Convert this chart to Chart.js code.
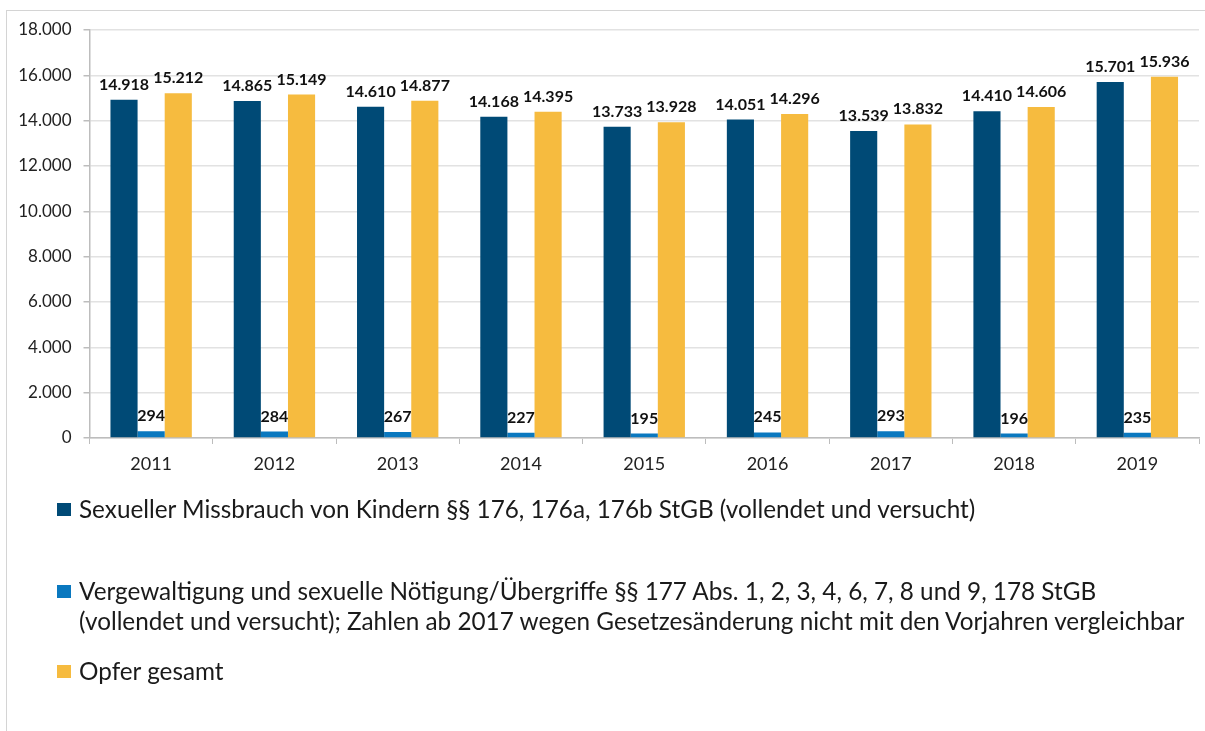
<!DOCTYPE html>
<html>
<head>
<meta charset="utf-8">
<script src="https://cdn.jsdelivr.net/npm/chart.js@4/dist/chart.umd.min.js"></script>
<style>
  html, body { margin: 0; padding: 0; background: #fff; }
  #wrap { position: relative; width: 1205px; height: 731px; overflow: hidden; }
  #frame { position: absolute; left: 6px; top: 10px; width: 1300px; height: 800px;
           border-left: 1px solid #d4d4d4; border-top: 1px solid #d4d4d4; }
  canvas { position: absolute; left: 0; top: 0; }
  .lg { position: absolute; left: 57px; font-family: Lato, "Open Sans", sans-serif;
        font-size: 24.3px; color: #1a1a1a; line-height: 29.5px; white-space: nowrap; }
  .lg .sw { position: absolute; left: 0; width: 14px; height: 13px; }
  .lg .tx { position: absolute; left: 22px; top: 0; }
</style>
</head>
<body>
<div id="wrap">
  <div id="frame"></div>
  <canvas id="c" width="1205" height="731"></canvas>
  <div id="legend"></div>
</div>
<script>
const categories = ["2011","2012","2013","2014","2015","2016","2017","2018","2019"];
const missbrauchKinder = [14918, 14865, 14610, 14168, 13733, 14051, 13539, 14410, 15701];
const vergewaltigung   = [294, 284, 267, 227, 195, 245, 293, 196, 235];
const opferGesamt      = [15212, 15149, 14877, 14395, 13928, 14296, 13832, 14606, 15936];
const seriesLabels = [
  ["Sexueller Missbrauch von Kindern §§ 176, 176a, 176b StGB (vollendet und versucht)"],
  ["Vergewaltigung und sexuelle Nötigung/Übergriffe §§ 177 Abs. 1, 2, 3, 4, 6, 7, 8 und 9, 178 StGB",
   "(vollendet und versucht); Zahlen ab 2017 wegen Gesetzesänderung nicht mit den Vorjahren vergleichbar"],
  ["Opfer gesamt"]
];
const seriesColors = ["#004a76", "#0a78bf", "#f6bb3f"];
const yTicksMax = 18000;
const yTickStep = 2000;

function fmt(v) {
  return String(v).replace(/\B(?=(\d{3})+(?!\d))/g, ".");
}

const labelPlugin = {
  id: "barLabels",
  afterDatasetsDraw(chart) {
    const ctx = chart.ctx;
    ctx.save();
    ctx.font = "bold 16px Lato, 'Open Sans', sans-serif";
    ctx.fillStyle = "#111";
    ctx.textAlign = "center";
    ctx.textBaseline = "alphabetic";
    chart.data.datasets.forEach((ds, i) => {
      const meta = chart.getDatasetMeta(i);
      meta.data.forEach((bar, j) => {
        ctx.fillText(fmt(ds.data[j]), bar.x, bar.y - 10);
      });
    });
    ctx.restore();
  }
};

const allSeries = [missbrauchKinder, vergewaltigung, opferGesamt];

new Chart(document.getElementById("c"), {
  type: "bar",
  data: {
    labels: categories,
    datasets: allSeries.map((d, i) => ({
      label: seriesLabels[i].join(" "),
      data: d,
      backgroundColor: seriesColors[i],
      borderWidth: 0,
      categoryPercentage: 0.66,
      barPercentage: 1.0
    }))
  },
  options: {
    responsive: false,
    animation: false,
    layout: { padding: { left: 6, right: 6, top: 30, bottom: 253 } },
    plugins: { legend: { display: false }, tooltip: { enabled: false } },
    scales: {
      x: {
        grid: { drawOnChartArea: false, drawTicks: true, tickLength: 6, color: "#bdbdbd" },
        border: { color: "#bdbdbd", width: 1.5 },
        ticks: { color: "#222", font: { family: "Lato, 'Open Sans', sans-serif", size: 18 }, padding: 9 },
        afterFit(scale) { scale.height = 40; }
      },
      y: {
        min: 0, max: yTicksMax,
        grid: { color: "#e2e2e2", tickLength: 6, tickColor: "#bdbdbd", lineWidth: 1.5 },
        border: { color: "#bdbdbd", width: 1.5 },
        ticks: { stepSize: yTickStep, color: "#222", padding: 12,
                 font: { family: "Lato, 'Open Sans', sans-serif", size: 17 },
                 callback: v => fmt(v) },
        afterFit(scale) { scale.width = 83.5; }
      }
    }
  },
  plugins: [labelPlugin]
});

// HTML legend built from series labels/colors
const legendTops = [494, 576, 656];
const lg = document.getElementById("legend");
seriesLabels.forEach((lines, i) => {
  const d = document.createElement("div");
  d.className = "lg";
  d.style.top = legendTops[i] + "px";
  const sw = document.createElement("div");
  sw.className = "sw";
  sw.style.background = seriesColors[i];
  sw.style.top = "9px";
  d.appendChild(sw);
  const tx = document.createElement("div");
  tx.className = "tx";
  tx.innerHTML = lines.map(l => l.replace(/&/g,"&amp;").replace(/</g,"&lt;")).join("<br>");
  d.appendChild(tx);
  lg.appendChild(d);
});
</script>
</body>
</html>
